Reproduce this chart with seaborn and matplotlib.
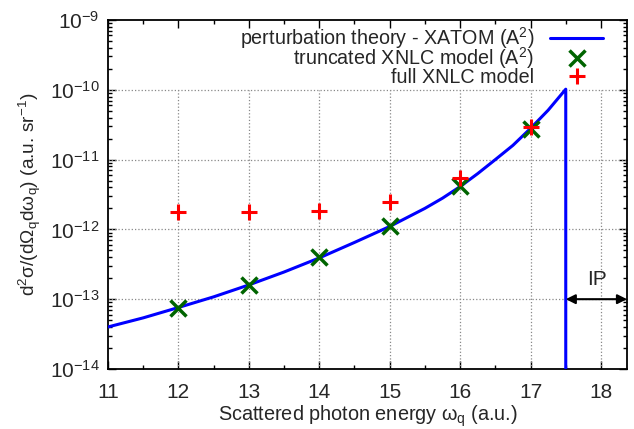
import numpy as np
import pandas as pd
import matplotlib
matplotlib.use('Agg')
import matplotlib.pyplot as plt
from matplotlib.ticker import LogFormatterMathtext, NullFormatter
import seaborn as sns

# perturbation theory curve (XATOM, A^2)
curve_omega = [11.0, 11.5, 12.0, 12.5, 13.0, 13.5, 14.0, 14.5, 15.0, 15.5,
               15.75, 16.0, 16.25, 16.5, 16.75, 17.0, 17.25, 17.5, 17.5]
curve_xs = [4.0e-14, 5.4e-14, 7.6e-14, 1.08e-13, 1.6e-13, 2.45e-13, 3.9e-13,
            6.5e-13, 1.1e-12, 2.0e-12, 2.8e-12, 4.1e-12, 6.3e-12, 1.0e-11,
            1.6e-11, 2.8e-11, 5.1e-11, 1.02e-10, 1e-16]

# truncated XNLC model (A^2)
trunc_omega = [12, 13, 14, 15, 16, 17]
trunc_xs = [7.5e-14, 1.6e-13, 4.0e-13, 1.1e-12, 4.2e-12, 2.7e-11]

# full XNLC model
full_omega = [12, 13, 14, 15, 16, 17]
full_xs = [1.8e-12, 1.75e-12, 1.85e-12, 2.5e-12, 5.5e-12, 2.9e-11]

ip_edge = 17.5

# axis ticks
x_ticks = [11, 12, 13, 14, 15, 16, 17, 18]
x_minor = [11.5, 12.5, 13.5, 14.5, 15.5, 16.5, 17.5]
y_ticks = [1e-14, 1e-13, 1e-12, 1e-11, 1e-10, 1e-9]
y_minor = [m * d for d in y_ticks[:-1] for m in range(2, 10)]

sns.set_style('ticks')
plt.rcParams['font.family'] = ['Liberation Sans', 'DejaVu Sans']
plt.rcParams['mathtext.fontset'] = 'custom'
plt.rcParams['mathtext.rm'] = 'Liberation Sans'
plt.rcParams['mathtext.it'] = 'Liberation Sans'
plt.rcParams['mathtext.default'] = 'regular'
plt.rcParams['font.size'] = 14

fig = plt.figure(figsize=(6.34, 4.29), dpi=100)
ax = fig.add_axes([0.1703, 0.1399, 0.8187, 0.8135])

curve_df = pd.DataFrame({'omega': curve_omega, 'xs': curve_xs})
sns.lineplot(data=curve_df, x='omega', y='xs', ax=ax, color='#0000ff',
             linewidth=2.2, sort=False, estimator=None,
             label='perturbation theory - XATOM (A$^2$)', zorder=3)
ax.plot(trunc_omega, trunc_xs, linestyle='none', marker='x', markersize=11,
        markeredgewidth=2.5, color='#006400',
        label='truncated XNLC model (A$^2$)', zorder=4)
ax.plot(full_omega, full_xs, linestyle='none', marker='+', markersize=12,
        markeredgewidth=2.2, color='#ff0000', label='full XNLC model', zorder=5)

ax.set_yscale('log')
ax.set_xlim(11, 18.37)
ax.set_ylim(1e-14, 1e-9)

# grid: horizontal at decades, vertical only below 1e-10
for dec in y_ticks[1:-1]:
    ax.axhline(dec, color='#888888', linestyle=':', linewidth=0.9, zorder=1)
ax.vlines(x_ticks[1:], 1e-14, 1e-10, colors='#888888', linestyles=':',
          linewidth=0.9, zorder=1)

ax.set_xticks(x_ticks)
ax.set_xticks(x_minor, minor=True)
ax.set_yticks(y_ticks)
ax.set_yticks(y_minor, minor=True)
ax.yaxis.set_major_formatter(LogFormatterMathtext())
ax.yaxis.set_minor_formatter(NullFormatter())
ax.set_xlim(11, 18.37)
ax.set_ylim(1e-14, 1e-9)
ax.tick_params(which='both', direction='in', top=True, right=True,
               labelsize=15, color='black')
ax.tick_params(which='major', length=6, width=1)
ax.tick_params(which='minor', length=3, width=1)
ax.tick_params(axis='x', pad=10)
ax.tick_params(axis='y', pad=6)
for s in ax.spines.values():
    s.set_linewidth(1.3)
    s.set_color('black')

# IP arrow
ax.annotate('', xy=(ip_edge, 1e-13), xytext=(18.37, 1e-13),
            arrowprops=dict(arrowstyle='<|-|>', color='black', lw=1.5,
                            mutation_scale=14, shrinkA=0, shrinkB=0),
            zorder=6)
ax.text(17.95, 1.9e-13, 'IP', ha='center', va='center', fontsize=15)

ax.set_xlabel('Scattered photon energy ω$_q$ (a.u.)', fontsize=14.3, labelpad=1)
ax.set_ylabel('d$^2$σ/(dΩ$_q$dω$_q$) (a.u. sr$^{-1}$)', fontsize=13.8, labelpad=5)

# gnuplot-style key: text right-aligned, sample on the right
handles, labels = ax.get_legend_handles_labels()
leg_opts = dict(frameon=False, markerfirst=False, fontsize=14.2,
                handlelength=2.7, handletextpad=0.8, borderaxespad=0,
                borderpad=0, loc='upper right')
leg1 = ax.legend(handles[:2], labels[:2], bbox_to_anchor=(0.954, 0.985),
                 labelspacing=-0.3, **leg_opts)
ax.add_artist(leg1)
ax.legend(handles[2:], labels[2:], bbox_to_anchor=(0.954, 0.862), **leg_opts)

fig.savefig('out.png', dpi=100)
